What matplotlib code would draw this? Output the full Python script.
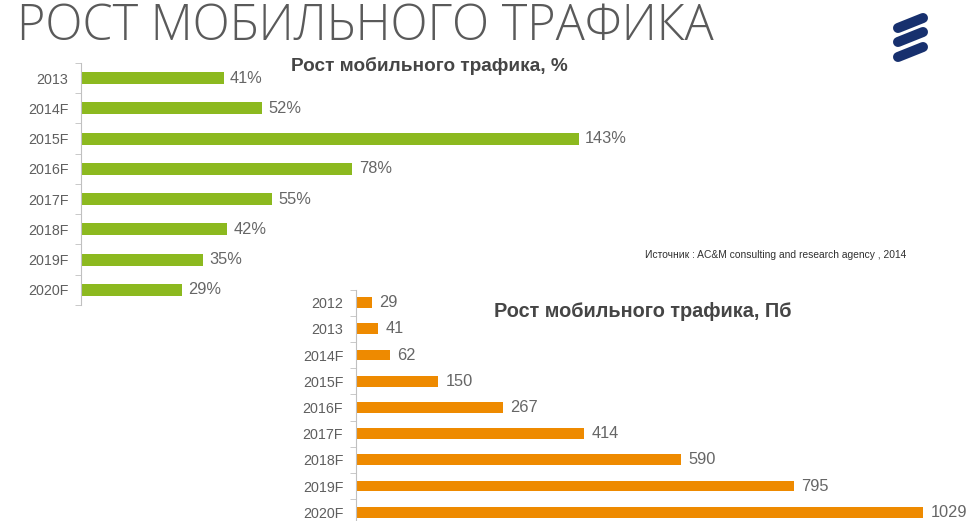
import matplotlib
matplotlib.use('Agg')
import matplotlib.pyplot as plt
from matplotlib.lines import Line2D

plt.rcParams['font.family'] = ['Liberation Sans', 'DejaVu Sans']

# данные
years_pct = ['2013', '2014F', '2015F', '2016F', '2017F', '2018F', '2019F', '2020F']
growth_pct = [41, 52, 143, 78, 55, 42, 35, 29]

years_pb = ['2012', '2013', '2014F', '2015F', '2016F', '2017F', '2018F', '2019F', '2020F']
traffic_pb = [29, 41, 62, 150, 267, 414, 590, 795, 1029]

green = '#8CB91F'
orange = '#EE8A00'
txt = '#5E5E5E'
axcol = '#C0C0C0'

fig = plt.figure(figsize=(9.7, 5.21), dpi=100)


def style(ax, n):
    for s in ['top', 'right', 'bottom']:
        ax.spines[s].set_visible(False)
    ax.spines['left'].set_color(axcol)
    ax.set_xticks([])
    ax.set_ylim(n - 0.5, -0.5)
    ax.set_yticks(range(n))
    ax.tick_params(axis='y', which='major', length=0, pad=9, labelsize=10.3, labelcolor=txt)
    ax.set_yticks([i - 0.5 for i in range(n + 1)], minor=True)
    ax.tick_params(axis='y', which='minor', length=4, color=axcol)
    ax.patch.set_alpha(0)


# верхний график, %
ax1 = fig.add_axes([0.0835, 0.4146, 0.574, 0.4645])
ax1.barh(range(len(years_pct)), growth_pct, height=0.4, color=green)
ax1.set_yticklabels(years_pct)
ax1.set_xlim(0, 160)
style(ax1, len(years_pct))
for i, v in enumerate(growth_pct):
    ax1.annotate(f'{v}%', (v, i), xytext=(4.5, 0), textcoords='offset points',
                 ha='left', va='center', fontsize=11.8, color='#666666')

# нижний график, Пб
ax2 = fig.add_axes([0.3667, -0.0083, 0.625, 0.4526])
ax2.barh(range(len(years_pb)), traffic_pb, height=0.41, color=orange)
ax2.set_yticklabels(years_pb)
ax2.set_xlim(0, 1100)
style(ax2, len(years_pb))
for i, v in enumerate(traffic_pb):
    ax2.annotate(f'{v}', (v, i), xytext=(5.5, 0), textcoords='offset points',
                 ha='left', va='center', fontsize=11.8, color='#666666')

# заголовки
fig.text(0.018, 0.9232, 'РОСТ МОБИЛЬНОГО ТРАФИКА', fontsize=35, color='#5A5A5A',
         family=['Open Sans', 'DejaVu Sans'], fontweight='light', va='baseline', ha='left')
fig.text(0.4423, 0.8637, 'Рост мобильного трафика, %', fontsize=13.7, fontweight='bold',
         color='#454545', ha='center', va='baseline')
fig.text(0.6624, 0.392, 'Рост мобильного трафика, Пб', fontsize=14.3, fontweight='bold',
         color='#454545', ha='center', va='baseline')
fig.text(0.665, 0.511, 'Источник : AC&M consulting and research agency , 2014', fontsize=7.4,
         color='#303030', ha='left', va='center')

# логотип
for y0, y1 in [(28, 18), (42, 32), (57, 47)]:
    fig.add_artist(Line2D([898 / 970, 923 / 970], [1 - y0 / 521, 1 - y1 / 521],
                          color='#17306E', lw=7.2, solid_capstyle='round'))

fig.savefig('out.png', dpi=100)
